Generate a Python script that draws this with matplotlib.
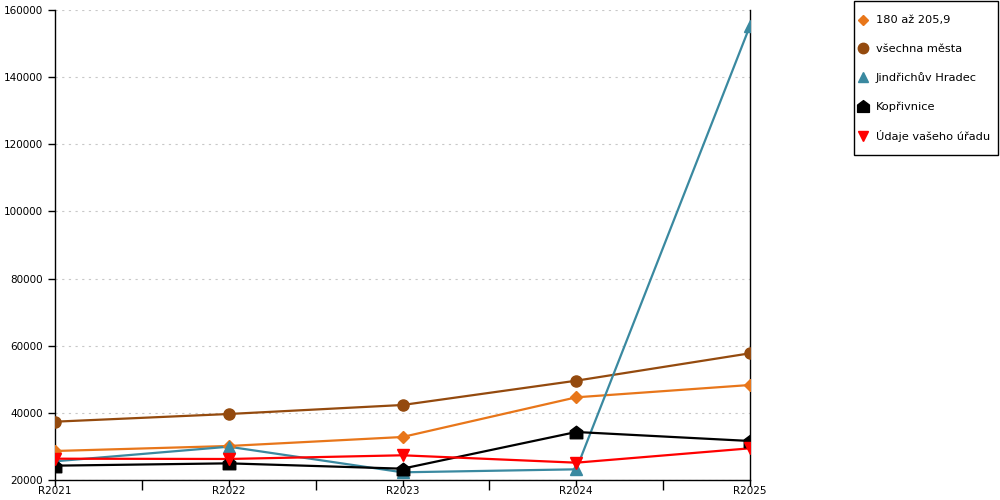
import matplotlib
matplotlib.use("Agg")
import matplotlib.pyplot as plt
from matplotlib.path import Path
from matplotlib.patches import Rectangle

years = ["R2021", "R2022", "R2023", "R2024", "R2025"]
s_180 = [28640, 30130, 32810, 44630, 48300]
s_vsechna = [37370, 39660, 42340, 49580, 57740]
s_jh = [25570, 29920, 22290, 23180, 155300]
s_kop = [24270, 24960, 23370, 34300, 31620]
s_urad = [26350, 26260, 27360, 25160, 29440]

# house-shaped marker for Koprivnice
house = Path([(-1, -1), (1, -1), (1, 0.25), (0, 1), (-1, 0.25), (-1, -1)],
             [Path.MOVETO, Path.LINETO, Path.LINETO, Path.LINETO, Path.LINETO, Path.CLOSEPOLY])

series = [
    ("180 až 205,9", s_180, "#e8761a", "D", 6),
    ("všechna města", s_vsechna, "#944a0e", "o", 8),
    ("Jindřichův Hradec", s_jh, "#3a89a0", "^", 8),
    ("Kopřivnice", s_kop, "#000000", house, 9),
    ("Údaje vašeho úřadu", s_urad, "#ff0000", "v", 8),
]

plt.rcParams['font.family'] = ['DejaVu Sans']
fig = plt.figure(figsize=(10, 5), dpi=100)
ax = fig.add_axes([0.055, 0.04, 0.695, 0.94])

x = list(range(len(years)))
handles = []
for name, vals, col, mk, ms in series:
    ax.plot(x, vals, color=col, linewidth=1.6, zorder=3)
    ax.plot(x, vals, linestyle='none', marker=mk, markersize=ms, color=col, zorder=4)
    h, = ax.plot([], [], linestyle='none', marker=mk, markersize=ms - 0.5, color=col, label=name)
    handles.append(h)

ax.set_xlim(0, 4)
ax.set_ylim(20000, 160000)
ax.set_xticks(x)
ax.set_xticklabels(years, fontsize=7.5)
ax.set_xticks([0.5, 1.5, 2.5, 3.5], minor=True)
ax.set_yticks(range(20000, 160001, 20000))
ax.tick_params(axis='y', labelsize=7.5, length=5, width=1)
ax.tick_params(axis='x', which='major', length=4, width=1, pad=0.5)
ax.tick_params(axis='x', which='minor', length=7, width=1)
ax.yaxis.grid(True, linestyle=(0, (2, 4)), color='#c8c8c8', linewidth=0.8)
ax.set_axisbelow(True)
ax.spines['top'].set_visible(False)
for s in ['left', 'right', 'bottom']:
    ax.spines[s].set_linewidth(1)
    ax.spines[s].set_color('black')

# legend box drawn separately so its size matches the original
fig.patches.append(Rectangle((0.854, 0.69), 0.144, 0.308, transform=fig.transFigure,
                             fill=False, edgecolor='black', linewidth=1))
fig.legend(handles=handles, loc='upper left', bbox_to_anchor=(0.857, 0.969),
           fontsize=8.2, frameon=False, labelspacing=1.6, handlelength=1.1,
           handletextpad=0.55, borderpad=0, borderaxespad=0)

fig.savefig("out.png", dpi=100)
